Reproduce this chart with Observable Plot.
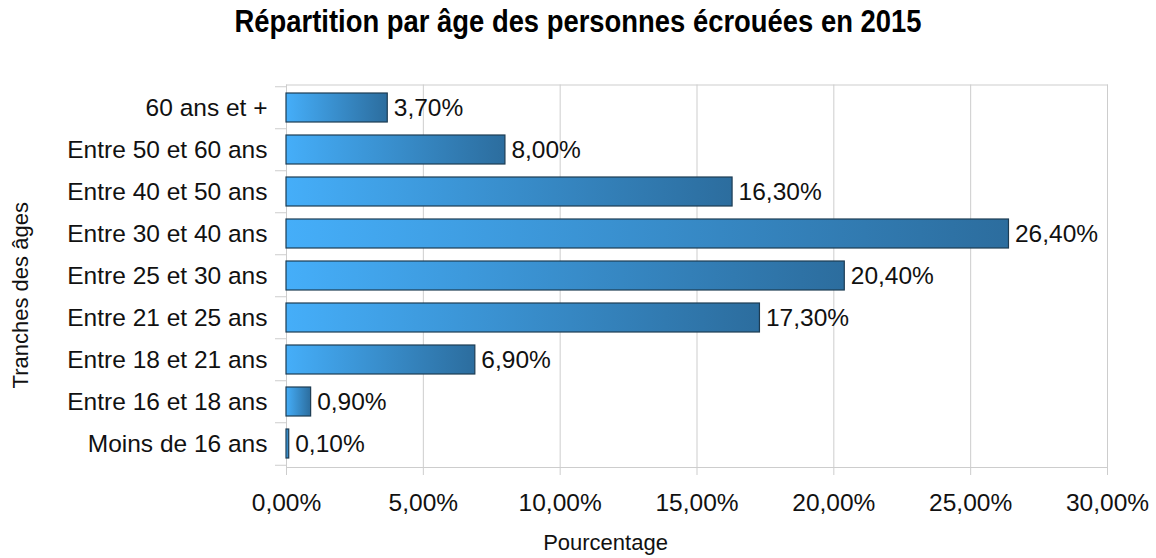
<!DOCTYPE html>
<html>
<head>
<meta charset="utf-8">
<script src="https://cdn.jsdelivr.net/npm/d3@7"></script>
<script src="https://cdn.jsdelivr.net/npm/@observablehq/plot@0.6"></script>
<style>
  html, body { margin: 0; padding: 0; background: #fff; }
  #wrap { position: relative; width: 1156px; height: 558px; overflow: hidden; }
  #title { position: absolute; left: 0; top: 2px; width: 1156px; text-align: center;
    font: bold 31px "Liberation Sans", Arial, sans-serif; line-height: 40px; color: #000;
    transform: scaleX(0.884); transform-origin: 578px 0; }
  #chart { position: absolute; left: 0; top: 60px; }
</style>
</head>
<body>
<div id="wrap">
  <div id="title">Répartition par âge des personnes écrouées en 2015</div>
  <div id="chart"></div>
</div>
<script>
const categories = [
  "60 ans et +",
  "Entre 50 et 60 ans",
  "Entre 40 et 50 ans",
  "Entre 30 et 40 ans",
  "Entre 25 et 30 ans",
  "Entre 21 et 25 ans",
  "Entre 18 et 21 ans",
  "Entre 16 et 18 ans",
  "Moins de 16 ans"
];
const values = [3.7, 8.0, 16.3, 26.4, 20.4, 17.3, 6.9, 0.9, 0.1];
const xTicks = [0, 5, 10, 15, 20, 25, 30];
const xTitle = "Pourcentage";
const yTitle = "Tranches des âges";

const data = categories.map((c, i) => ({label: c, value: values[i]}));
const fmt = d => d.toFixed(2).replace(".", ",") + "%";
const grey = "#cdcdcd";

const svg = Plot.plot({
  width: 1156,
  height: 498,
  marginTop: 24.5,
  marginBottom: 91,
  marginLeft: 286,
  marginRight: 49,
  style: {fontFamily: "'Liberation Sans', Arial, sans-serif", fontSize: "24.5px", color: "#111", background: "#fff"},
  x: {domain: [0, 30]},
  y: {domain: categories, paddingInner: 0.32, paddingOuter: 0.16},
  marks: [
    Plot.gridX({ticks: xTicks, stroke: grey, strokeOpacity: 1}),
    Plot.frame({stroke: grey}),
    Plot.axisX({ticks: xTicks, tickFormat: fmt, tickSize: 8, tickPadding: 18, stroke: grey, fill: "#111", label: null, fontSize: 24.5}),
    Plot.axisY({tickSize: 0, tickPadding: 19, fill: "#111", label: null, fontSize: 24.5}),
    Plot.axisY({tickSize: 11, tickFormat: () => "", dy: -21.25, stroke: grey, label: null}),
    Plot.axisY({ticks: categories.slice(-1), tickSize: 11, tickFormat: () => "", dy: 21.25, stroke: grey, label: null}),
    Plot.barX(data, {x: "value", y: "label", fill: "url(#barGrad)", stroke: "#1d3c53", strokeWidth: 1.2}),
    Plot.text(data, {x: "value", y: "label", text: d => fmt(d.value), dx: 6, textAnchor: "start", fill: "#111", fontSize: 24.5}),
    Plot.text([yTitle], {frameAnchor: "left", textAnchor: "middle", rotate: -90, dx: -266, dy: 19, fill: "#111", fontSize: 22}),
    Plot.text([xTitle], {frameAnchor: "bottom", textAnchor: "middle", dx: -91.5, dy: 82, fill: "#111", fontSize: 22})
  ]
});

const defs = d3.select(svg).insert("defs", ":first-child");
const grad = defs.append("linearGradient").attr("id", "barGrad")
  .attr("x1", "0").attr("y1", "0").attr("x2", "1").attr("y2", "0");
grad.append("stop").attr("offset", "0%").attr("stop-color", "#45aef9");
grad.append("stop").attr("offset", "100%").attr("stop-color", "#2c6d9e");

document.getElementById("chart").appendChild(svg);
</script>
</body>
</html>
